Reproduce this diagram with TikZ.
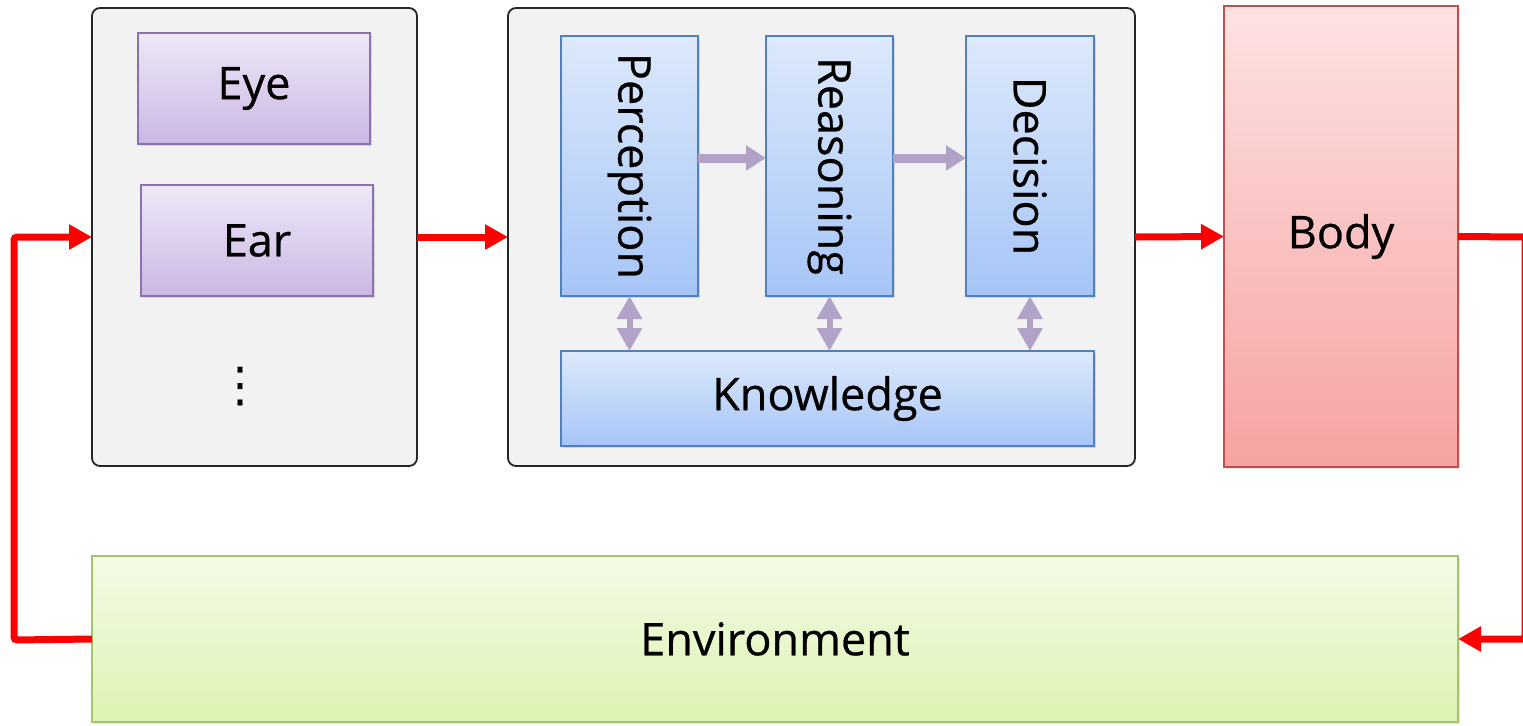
\documentclass[tikz,border=0pt]{standalone}
\usepackage{fontspec}
\setmainfont{Open Sans}[FakeBold=0.6]
\newfontfamily\symfont{DejaVu Sans}
\usetikzlibrary{arrows.meta,shadows}
\definecolor{grayfill}{HTML}{F2F2F2}
\definecolor{grayline}{HTML}{262626}
\definecolor{purtop}{HTML}{EEE8F7}
\definecolor{purbot}{HTML}{CBB7E3}
\definecolor{purline}{HTML}{8A72AE}
\definecolor{bluetop}{HTML}{DDE9FB}
\definecolor{bluebot}{HTML}{A6C5F7}
\definecolor{blueline}{HTML}{4F81BD}
\definecolor{pinktop}{HTML}{FDE2E2}
\definecolor{pinkbot}{HTML}{F7A2A2}
\definecolor{pinkline}{HTML}{C0504D}
\definecolor{greentop}{HTML}{F4FBE7}
\definecolor{greenbot}{HTML}{DCF3B2}
\definecolor{greenline}{HTML}{A3C46A}
\definecolor{arrred}{HTML}{FF0000}
\definecolor{arrpur}{HTML}{B3A2C7}
\tikzset{
  base/.style={inner sep=0pt, outer sep=0pt, font=\fontsize{22.5}{27}\selectfont},
  container/.style={base, draw=grayline, line width=0.9pt, fill=grayfill, rounded corners=4pt},
  sense/.style={base, draw=purline, line width=0.6pt, top color=purtop, bottom color=purbot,
     drop shadow={opacity=0.25, shadow xshift=1.2pt, shadow yshift=-1.2pt}},
  module/.style={base, draw=blueline, line width=0.6pt, top color=bluetop, bottom color=bluebot,
     drop shadow={opacity=0.25, shadow xshift=1.2pt, shadow yshift=-1.2pt}},
  bodybox/.style={base, draw=pinkline, line width=0.6pt, top color=pinktop, bottom color=pinkbot,
     drop shadow={opacity=0.2, shadow xshift=1.2pt, shadow yshift=-1.2pt}},
  envbox/.style={base, draw=greenline, line width=0.6pt, top color=greentop, bottom color=greenbot,
     drop shadow={opacity=0.2, shadow xshift=1.2pt, shadow yshift=-1.2pt}},
  redarrow/.style={draw=arrred, line width=3.5pt, rounded corners=1.5pt,
     -{Triangle[length=11.5pt, width=12pt]}},
  flowarrow/.style={draw=arrpur, line width=4.5pt, -{Triangle[length=10pt, width=12pt]}},
  duplex/.style={draw=arrpur, line width=3pt,
     {Triangle[length=11.5pt, width=12pt]}-{Triangle[length=11.5pt, width=12pt]}},
}
\begin{document}
\begin{tikzpicture}[x=0.5pt, y=-0.5pt]
\useasboundingbox (0,0) rectangle (1523,725);
\clip (0,0) rectangle (1523,725);
% containers
\node[container, minimum width=162.5pt, minimum height=229pt] (sensor) at (254.5,237) {};
\node[container, minimum width=313.5pt, minimum height=229pt] (brain) at (821.5,237) {};
% sensors
\node[sense, minimum width=116pt, minimum height=55.5pt] (eye) at (254,88.5) {Eye};
\node[sense, minimum width=116pt, minimum height=55.5pt] (ear) at (257,240.5) {Ear};
\node[base, font=\symfont\fontsize{24}{28}\selectfont] (dots) at (240,387) {⋮};
% brain modules
\node[module, minimum width=68.5pt, minimum height=130pt] (perc) at (629.5,166) {};
\node[base, rotate=-90] (perclabel) at (perc.center) {Perception};
\node[module, minimum width=63.5pt, minimum height=130pt] (reas) at (829.5,166) {};
\node[base, rotate=-90] (reaslabel) at (reas.center) {Reasoning};
\node[module, minimum width=64pt, minimum height=130pt] (deci) at (1030,166) {};
\node[base, rotate=-90] (decilabel) at (deci.center) {Decision};
\node[module, minimum width=266.5pt, minimum height=47.5pt] (know) at (827.5,398.5) {Knowledge};
% body and environment
\node[bodybox, minimum width=117pt, minimum height=230.5pt] (body) at (1341,236.5) {Body};
\node[envbox, minimum width=683pt, minimum height=83pt] (env) at (775,639) {Environment};
% internal arrows
\draw[flowarrow] ([yshift=4pt]perc.east) -- ([yshift=4pt]reas.west);
\draw[flowarrow] ([yshift=4pt]reas.east) -- ([yshift=4pt]deci.west);
\draw[duplex] (perc.south) -- (perc.south |- know.north);
\draw[duplex] (reas.south) -- (reas.south |- know.north);
\draw[duplex] (deci.south) -- (deci.south |- know.north);
% main loop
\coordinate (lc) at (14,640);
\coordinate (rc) at (1525,237);
\draw[redarrow] (env.west) -- (lc) |- (sensor.west);
\draw[redarrow] (sensor.east) -- (brain.west);
\draw[redarrow] (brain.east) -- (body.west);
\draw[redarrow] (body.east) -- (rc) |- (env.east);
\end{tikzpicture}
\end{document}
